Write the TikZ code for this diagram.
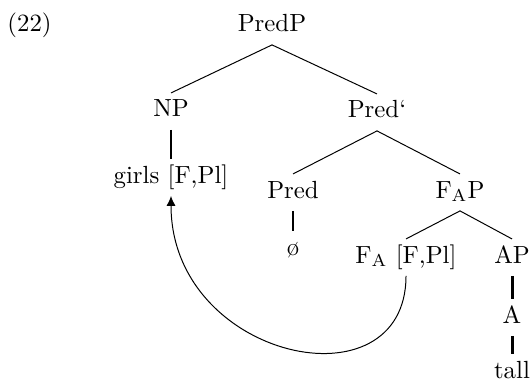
\documentclass[tikz,border=0pt]{standalone}
\usetikzlibrary{arrows.meta}
\begin{document}
\begin{tikzpicture}[x=0.403pt,y=-0.403pt,
  cat/.style={anchor=base,inner sep=2.5pt,text height=7pt,text depth=2.5pt},
  unary/.style={line width=1.2pt}]
\useasboundingbox (0,0) rectangle (532,383);
\node[anchor=base west,inner sep=0pt] (ex) at (7,32) {(22)};
\node[cat] (predp) at (272,32) {PredP};
\node[cat] (np) at (171,117) {NP};
\node[cat] (predbar) at (377,118) {Pred`};
\node[cat] (girls) at (171,183) {girls [F,Pl]};
\node[cat] (pred) at (293,198) {Pred};
\node[cat] (fap) at (460,198) {F$_{\mathrm{A}}$P};
\node[cat] (empty) at (293,255) {\o};
\node[cat] (fa) at (406,263) {F$_{\mathrm{A}}$ [F,Pl]};
\node[cat] (ap) at (512,263) {AP};
\node[cat] (a) at (512,323) {A};
\node[cat] (tall) at (512,378) {tall};
\draw (predp.south) -- (np.north);
\draw (predp.south) -- (predbar.north);
\draw (predbar.south) -- (pred.north);
\draw (predbar.south) -- (fap.north);
\draw (fap.south) -- (fa.north);
\draw (fap.south) -- (ap.north);
\draw[unary] (np.south) -- (girls.north);
\draw[unary] (pred.south) -- (empty.north);
\draw[unary] (ap.south) -- (a.north);
\draw[unary] (a.south) -- (tall.north);
\draw[-{Latex[length=4pt,width=3.6pt]}] (fa.south) .. controls (406,410) and (171,360) .. (girls.south);
\end{tikzpicture}
\end{document}
